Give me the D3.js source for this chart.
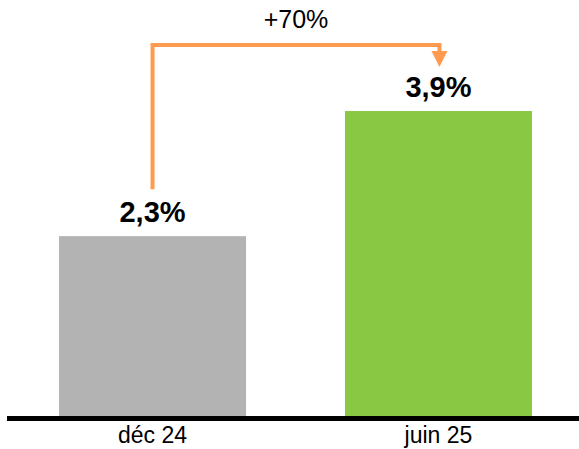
<!DOCTYPE html>
<html>
<head>
  <meta charset="utf-8">
  <script src="https://d3js.org/d3.v7.min.js"></script>
  <style>
    body { margin: 0; background: #fff; }
    svg { display: block; font-family: "Liberation Sans", Arial, sans-serif; }
  </style>
</head>
<body>
<script>
var categories = ["déc 24", "juin 25"];
var values = [2.3, 3.9];
var valueLabels = ["2,3%", "3,9%"];
var colors = ["#b3b3b3", "#88c843"];
var changeLabel = "+70%";

var width = 579, height = 449, baseY = 416;

var svg = d3.select("body").append("svg")
  .attr("width", width).attr("height", height);

var x = d3.scaleBand()
  .domain(categories)
  .range([9, 582])
  .paddingInner(0.346)
  .paddingOuter(0.175);

var y = d3.scaleLinear()
  .domain([0, 5.32])
  .range([baseY, 0]);

// bars
svg.selectAll(".bar")
  .data(values)
  .enter().append("rect")
  .attr("class", "bar")
  .attr("x", (d, i) => x(categories[i]))
  .attr("y", d => y(d))
  .attr("width", x.bandwidth())
  .attr("height", d => baseY - y(d))
  .attr("fill", (d, i) => colors[i]);

// value labels
svg.selectAll(".val")
  .data(values)
  .enter().append("text")
  .attr("class", "val")
  .attr("x", (d, i) => x(categories[i]) + x.bandwidth() / 2)
  .attr("y", d => y(d) - 14)
  .attr("text-anchor", "middle")
  .style("font-size", "29px")
  .style("font-weight", "bold")
  .text((d, i) => valueLabels[i]);

// baseline
svg.append("rect")
  .attr("x", 7).attr("y", baseY)
  .attr("width", width - 7).attr("height", 5)
  .attr("fill", "#000");

// category labels
svg.selectAll(".cat")
  .data(categories)
  .enter().append("text")
  .attr("class", "cat")
  .attr("x", d => x(d) + x.bandwidth() / 2)
  .attr("y", 443)
  .attr("text-anchor", "middle")
  .style("font-size", "23px")
  .text(d => d);

// change arrow
var x0 = x(categories[0]) + x.bandwidth() / 2;
var x1 = x(categories[1]) + x.bandwidth() / 2 + 1;
var topY = 45;
var tipY = y(values[1]) - 44;
var orange = "#ff9b50";

svg.append("path")
  .attr("d", "M" + x0 + "," + (y(values[0]) - 47) + "V" + topY + "H" + x1 + "V" + (tipY - 14))
  .attr("fill", "none")
  .attr("stroke", orange)
  .attr("stroke-width", 4);

svg.append("path")
  .attr("d", "M" + (x1 - 8) + "," + (tipY - 16) + "L" + (x1 + 8) + "," + (tipY - 16) + "L" + x1 + "," + tipY + "Z")
  .attr("fill", orange);

svg.append("text")
  .attr("x", (x0 + x1) / 2)
  .attr("y", 28)
  .attr("text-anchor", "middle")
  .style("font-size", "25px")
  .text(changeLabel);
</script>
</body>
</html>
